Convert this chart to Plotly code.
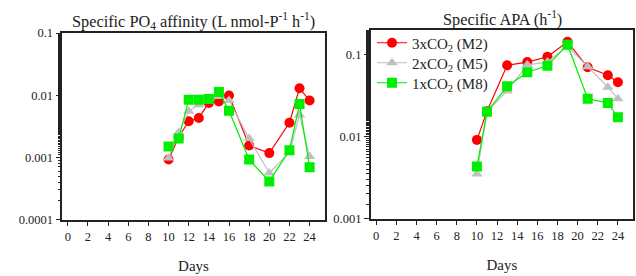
import plotly.graph_objects as go

# ---- data ----
days_po4 = [10, 11, 12, 13, 14, 15, 16, 18, 20, 22, 23, 24]
po4_m2 = [0.00092, 0.0021, 0.0038, 0.0043, 0.0075, 0.0079, 0.0099, 0.00155, 0.00117, 0.0036, 0.0129, 0.0082]
po4_m5 = [0.00098, 0.0025, 0.0055, 0.0070, 0.0090, 0.0095, 0.0082, 0.0020, 0.00056, 0.0012, 0.0048, 0.00103]
po4_m8 = [0.0015, 0.0020, 0.0084, 0.0084, 0.0087, 0.0112, 0.0056, 0.00092, 0.00041, 0.0013, 0.0072, 0.00069]

days_apa = [10, 11, 13, 15, 17, 19, 21, 23, 24]
apa_m2 = [0.0091, 0.0204, 0.074, 0.081, 0.094, 0.143, 0.070, 0.056, 0.046]
apa_m5 = [0.0035, 0.0200, 0.036, 0.075, 0.081, 0.126, 0.071, 0.040, 0.029]
apa_m8 = [0.0043, 0.0200, 0.041, 0.061, 0.073, 0.132, 0.029, 0.0257, 0.0172]

series_names = ["3xCO<sub>2</sub> (M2)", "2xCO<sub>2</sub> (M5)", "1xCO<sub>2</sub> (M8)"]
colors = ["#ff0000", "#c0c0c0", "#00ee00"]
symbols = ["circle", "triangle-up", "square"]

x_ticks = list(range(0, 25, 2))
po4_yticks = [0.0001, 0.001, 0.01, 0.1]
po4_ylabels = ["0.0001", "0.001", "0.01", "0.1"]
apa_yticks = [0.001, 0.01, 0.1]
apa_ylabels = ["0.001", "0.01", "0.1"]

FONT = "Liberation Serif, Times New Roman, serif"
W, H = 636, 276

fig = go.Figure()

for i, ys in enumerate([po4_m2, po4_m5, po4_m8]):
    fig.add_trace(go.Scatter(
        x=days_po4, y=ys, mode="lines+markers", name=series_names[i],
        line=dict(color=colors[i], width=1.2),
        marker=dict(symbol=symbols[i], size=10, color=colors[i]),
        xaxis="x", yaxis="y", showlegend=False))

legend_ids = ["legend", "legend2", "legend3"]
for i, ys in enumerate([apa_m2, apa_m5, apa_m8]):
    fig.add_trace(go.Scatter(
        x=days_apa, y=ys, mode="lines+markers", name=series_names[i],
        line=dict(color=colors[i], width=1.2),
        marker=dict(symbol=symbols[i], size=10, color=colors[i]),
        xaxis="x2", yaxis="y2", showlegend=True, legend=legend_ids[i]))

def px_x(p):
    return p / W

def px_y(p):
    return 1 - p / H

axis_common = dict(showline=True, linecolor="#222", linewidth=1.5, mirror=True,
                   showgrid=False, zeroline=False, ticks="outside", tickcolor="#222",
                   ticklen=5, tickwidth=1.2, automargin=False,
                   tickfont=dict(family=FONT, size=12.5, color="#222"))

xcommon = dict(axis_common, range=[-0.55, 25.5], tickvals=x_ticks,
               title=dict(text="Days", font=dict(family=FONT, size=15, color="#222"), standoff=17))

legend_y = [43, 63, 83]
legend_layouts = {}
for i, lid in enumerate(legend_ids):
    legend_layouts[lid] = dict(x=px_x(372), y=px_y(legend_y[i]), xanchor="left", yanchor="middle",
                               bgcolor="rgba(0,0,0,0)", borderwidth=0,
                               font=dict(family=FONT, size=15, color="#222"), itemwidth=30)

fig.update_layout(
    width=W, height=H, margin=dict(l=0, r=0, t=0, b=0, autoexpand=False),
    paper_bgcolor="white", plot_bgcolor="white",
    font=dict(family=FONT, color="#222"),
    xaxis=dict(xcommon, domain=[px_x(62.3), px_x(324.7)], anchor="y"),
    yaxis=dict(axis_common, type="log", domain=[px_y(219.5), px_y(33)], anchor="x",
               range=[-4, -1], tickvals=po4_yticks, ticktext=po4_ylabels,
               minor=dict(ticks="outside", ticklen=3, tickcolor="#222", showgrid=False)),
    xaxis2=dict(xcommon, domain=[px_x(370.7), px_x(633)], anchor="y2"),
    yaxis2=dict(axis_common, type="log", domain=[px_y(218.5), px_y(30)], anchor="x2",
                range=[-3, -0.7], tickvals=apa_yticks, ticktext=apa_ylabels,
                minor=dict(ticks="outside", ticklen=3, tickcolor="#222", showgrid=False)),
    annotations=[
        dict(text="Specific PO<sub>4</sub> affinity (L nmol-P<sup>-1</sup> h<sup>-1</sup>)",
             x=px_x(193.5), y=px_y(21), xref="paper", yref="paper",
             xanchor="center", yanchor="middle", showarrow=False,
             font=dict(family=FONT, size=16.3, color="#222")),
        dict(text="Specific APA (h<sup>-1</sup>)",
             x=px_x(502), y=px_y(19), xref="paper", yref="paper",
             xanchor="center", yanchor="middle", showarrow=False,
             font=dict(family=FONT, size=16.3, color="#222")),
    ],
    **legend_layouts,
)

fig.write_html("out.html", config={"displayModeBar": False},
               post_script="document.body.style.margin='0';document.body.style.padding='0';")
